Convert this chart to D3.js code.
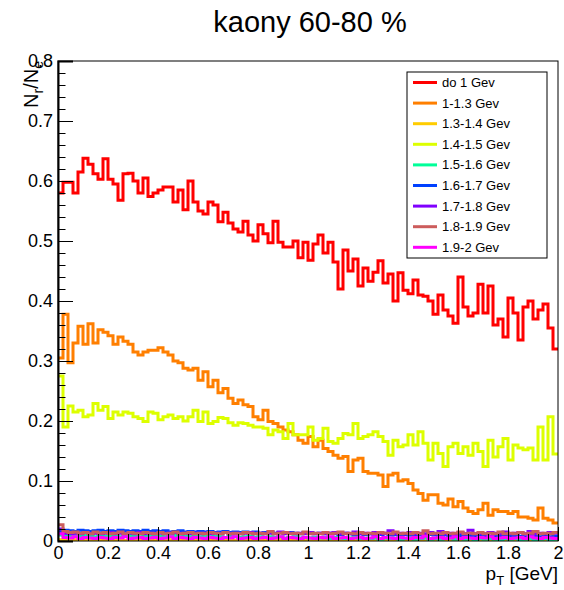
<!DOCTYPE html>
<html>
<head>
<meta charset="utf-8">
<script src="https://cdn.jsdelivr.net/npm/d3@7"></script>
<style>
  body { margin: 0; background: #fff; }
  svg { display: block; font-family: "Liberation Sans", Arial, sans-serif; }
</style>
</head>
<body>
<svg width="564" height="590"></svg>
<script>
// histogram bins: 100 bins from 0 to 2 GeV
var xMin = 0, xMax = 2, nBins = 100;
var xTicks = [0, 0.2, 0.4, 0.6, 0.8, 1, 1.2, 1.4, 1.6, 1.8, 2];
var yTicks = [0, 0.1, 0.2, 0.3, 0.4, 0.5, 0.6, 0.7, 0.8];

var labels = ["do 1 Gev", "1-1.3 Gev", "1.3-1.4 Gev", "1.4-1.5 Gev", "1.5-1.6 Gev",
              "1.6-1.7 Gev", "1.7-1.8 Gev", "1.8-1.9 Gev", "1.9-2 Gev"];
var colors = ["#ff0000", "#ff7f00", "#ffcc00", "#ddff00", "#00ff99",
              "#0040ff", "#8000ff", "#cc5c5c", "#ff00ff"];

var do1 = [
  .580,.598,.598,.580,.615,.638,.628,.612,.603,.637,
  .603,.595,.568,.612,.613,.600,.580,.605,.574,.580,
  .585,.590,.590,.565,.585,.552,.600,.565,.550,.545,
  .565,.560,.532,.548,.530,.520,.515,.533,.510,.500,
  .527,.512,.497,.533,.498,.490,.490,.500,.472,.498,
  .468,.495,.510,.480,.498,.465,.420,.485,.450,.470,
  .425,.455,.433,.448,.467,.430,.445,.400,.447,.418,
  .412,.435,.410,.408,.400,.378,.410,.385,.375,.363,
  .440,.390,.375,.380,.428,.380,.425,.360,.370,.340,
  .405,.380,.335,.390,.400,.370,.385,.395,.355,.320];

var s1_13 = [
  .305,.378,.297,.330,.358,.328,.362,.330,.352,.348,
  .342,.328,.340,.333,.328,.315,.310,.315,.318,.318,
  .322,.315,.310,.300,.297,.288,.285,.288,.268,.282,
  .257,.268,.247,.254,.238,.229,.235,.227,.224,.207,
  .202,.218,.199,.196,.190,.185,.182,.177,.168,.163,
  .174,.157,.168,.154,.149,.143,.138,.141,.116,.135,
  .138,.116,.113,.113,.110,.091,.110,.113,.100,.102,
  .096,.085,.079,.068,.077,.077,.063,.060,.070,.057,
  .066,.055,.049,.046,.052,.063,.043,.052,.049,.049,
  .046,.049,.040,.040,.038,.035,.055,.038,.035,.030];

var s13_14 = [
  .002,.001,.001,.002,.001,.001,.001,.002,.001,.001,
  .001,.002,.001,.001,.001,.002,.001,.001,.002,.001,
  .001,.001,.002,.001,.001,.001,.002,.001,.001,.002,
  .001,.001,.001,.002,.001,.001,.002,.001,.001,.001,
  .002,.001,.001,.001,.002,.001,.001,.002,.001,.001,
  .001,.002,.001,.001,.001,.002,.001,.001,.002,.001,
  .001,.001,.002,.001,.001,.001,.002,.001,.001,.002,
  .001,.001,.001,.002,.001,.001,.002,.001,.001,.001,
  .002,.001,.001,.001,.002,.001,.001,.002,.001,.001,
  .001,.002,.001,.001,.001,.002,.001,.001,.002,.001];

var s14_15 = [
  .275,.190,.225,.215,.218,.207,.210,.229,.218,.224,
  .204,.215,.210,.215,.213,.207,.204,.199,.215,.213,
  .202,.207,.210,.204,.207,.200,.207,.218,.199,.215,
  .196,.199,.206,.204,.197,.193,.197,.196,.193,.190,
  .190,.188,.177,.185,.182,.171,.196,.177,.177,.177,
  .190,.168,.171,.188,.166,.163,.171,.179,.177,.196,
  .171,.174,.177,.182,.174,.166,.143,.168,.157,.160,
  .177,.160,.182,.163,.135,.163,.146,.124,.157,.163,
  .146,.157,.143,.163,.149,.124,.168,.140,.157,.171,
  .135,.160,.155,.152,.155,.135,.190,.135,.207,.145];

var s15_16 = [
  .010,.009,.008,.009,.008,.009,.008,.007,.009,.008,
  .009,.008,.007,.008,.009,.008,.007,.008,.009,.008,
  .008,.007,.008,.009,.007,.008,.007,.008,.007,.008,
  .007,.008,.007,.006,.008,.007,.006,.007,.008,.006,
  .007,.006,.007,.006,.007,.005,.006,.007,.005,.006,
  .005,.006,.005,.006,.004,.006,.005,.004,.005,.006,
  .004,.005,.004,.005,.003,.005,.004,.005,.003,.004,
  .005,.003,.004,.005,.003,.004,.003,.004,.005,.003,
  .004,.003,.004,.002,.004,.003,.004,.003,.002,.004,
  .003,.004,.002,.003,.004,.002,.003,.004,.002,.003];

var s16_17 = [
  .016,.018,.017,.016,.018,.017,.016,.017,.018,.016,
  .017,.016,.018,.017,.016,.017,.016,.018,.016,.017,
  .016,.017,.015,.016,.017,.015,.016,.015,.016,.015,
  .016,.014,.015,.016,.014,.015,.014,.015,.014,.015,
  .013,.014,.015,.013,.014,.013,.014,.013,.012,.014,
  .013,.012,.013,.012,.013,.012,.011,.013,.012,.011,
  .012,.011,.012,.010,.011,.012,.010,.011,.010,.011,
  .010,.011,.010,.009,.011,.010,.009,.010,.009,.010,
  .009,.010,.009,.008,.010,.009,.008,.009,.008,.009,
  .008,.009,.008,.007,.009,.008,.007,.008,.007,.008];

var s17_18 = [
  .020,.013,.012,.013,.012,.014,.012,.013,.012,.013,
  .014,.012,.013,.012,.013,.012,.014,.012,.013,.012,
  .013,.012,.013,.014,.012,.013,.012,.013,.012,.013,
  .012,.013,.012,.014,.012,.013,.012,.013,.014,.012,
  .013,.012,.013,.012,.015,.012,.013,.012,.013,.012,
  .014,.012,.013,.012,.013,.014,.012,.013,.012,.015,
  .012,.013,.012,.014,.012,.013,.017,.012,.013,.012,
  .014,.012,.013,.012,.014,.012,.016,.012,.013,.012,
  .014,.012,.018,.012,.013,.012,.014,.013,.012,.015,
  .012,.013,.014,.012,.016,.012,.013,.012,.014,.013];

var s18_19 = [
  .027,.016,.014,.015,.013,.014,.012,.015,.013,.014,
  .012,.013,.015,.012,.014,.013,.012,.014,.013,.012,
  .014,.012,.013,.015,.012,.013,.014,.012,.013,.012,
  .014,.013,.012,.014,.012,.013,.012,.014,.013,.012,
  .013,.012,.016,.012,.013,.014,.012,.013,.012,.015,
  .012,.013,.012,.014,.012,.013,.015,.012,.013,.012,
  .014,.012,.013,.012,.014,.013,.012,.015,.012,.013,
  .012,.014,.012,.017,.012,.013,.012,.014,.012,.013,
  .015,.012,.013,.012,.014,.012,.013,.012,.015,.012,
  .013,.012,.014,.012,.013,.016,.012,.013,.012,.014];

var s19_2 = [
  .012,.006,.005,.007,.004,.006,.005,.004,.006,.005,
  .004,.006,.005,.007,.004,.005,.006,.004,.005,.006,
  .004,.005,.007,.004,.006,.005,.004,.006,.005,.004,
  .006,.005,.004,.006,.005,.007,.004,.005,.006,.004,
  .005,.006,.004,.005,.007,.004,.006,.005,.004,.006,
  .005,.004,.006,.005,.007,.004,.005,.006,.004,.005,
  .006,.004,.005,.007,.004,.006,.005,.004,.006,.005,
  .004,.006,.005,.008,.004,.005,.006,.004,.005,.007,
  .004,.006,.005,.004,.006,.005,.007,.004,.005,.006,
  .004,.005,.006,.004,.007,.005,.004,.006,.005,.004];

var series = [do1, s1_13, s13_14, s14_15, s15_16, s16_17, s17_18, s18_19, s19_2];

var svg = d3.select("svg");
var margin = { top: 61, right: 6, bottom: 49, left: 58 };
var width = 564 - margin.left - margin.right;
var height = 590 - margin.top - margin.bottom;

var x = d3.scaleLinear().domain([xMin, xMax]).range([0, width]);
var y = d3.scaleLinear().domain([0, 0.8]).range([height, 0]);

var g = svg.append("g")
    .attr("transform", "translate(" + margin.left + "," + margin.top + ")");

g.append("clipPath").attr("id", "clip")
  .append("rect").attr("width", width).attr("height", height);

// titre
svg.append("text")
    .attr("x", 310).attr("y", 32)
    .attr("text-anchor", "middle")
    .attr("font-size", 29)
    .text("kaony 60-80 %");

// histogrammes en escalier
var binW = (xMax - xMin) / nBins;
var line = d3.line()
    .x(function(d) { return x(d[0]); })
    .y(function(d) { return y(d[1]); })
    .curve(d3.curveStepAfter);

var plot = g.append("g").attr("clip-path", "url(#clip)");
series.forEach(function(vals, k) {
    var pts = vals.map(function(v, i) { return [xMin + i * binW, v]; });
    pts.push([xMax, vals[vals.length - 1]]);
    plot.append("path")
        .datum(pts)
        .attr("fill", "none")
        .attr("stroke", colors[k])
        .attr("stroke-width", 3)
        .attr("d", line);
});

// cadre
g.append("rect")
    .attr("width", width).attr("height", height)
    .attr("fill", "none").attr("stroke", "#000").attr("stroke-width", 1);

// axes
var xMinor = d3.range(0, 2.0001, 0.04);
var yMinor = d3.range(0, 0.8001, 0.02);

g.append("g")
    .attr("transform", "translate(0," + height + ")")
    .call(d3.axisBottom(x).tickValues(xMinor).tickSize(-7).tickFormat(""))
    .call(function(a) { a.select(".domain").remove(); });

g.append("g")
    .attr("class", "xaxis")
    .attr("transform", "translate(0," + height + ")")
    .call(d3.axisBottom(x).tickValues(xTicks).tickSize(-14).tickPadding(5)
        .tickFormat(d3.format("~g")))
    .call(function(a) { a.select(".domain").remove(); });

g.append("g")
    .call(d3.axisLeft(y).tickValues(yMinor).tickSize(-7.5).tickFormat(""))
    .call(function(a) { a.select(".domain").remove(); });

g.append("g")
    .attr("class", "yaxis")
    .call(d3.axisLeft(y).tickValues(yTicks).tickSize(-15).tickPadding(5)
        .tickFormat(d3.format("~g")))
    .call(function(a) { a.select(".domain").attr("stroke-width", 2); });

svg.selectAll(".xaxis text, .yaxis text")
    .attr("font-size", 18)
    .attr("font-family", "Liberation Sans, Arial, sans-serif")
    .attr("fill", "#000");

// titre axe x
var xt = svg.append("text")
    .attr("x", 558).attr("y", 580)
    .attr("text-anchor", "end")
    .attr("font-size", 19);
xt.append("tspan").text("p");
xt.append("tspan").attr("font-size", 13).attr("dy", 5).text("T");
xt.append("tspan").attr("dy", -5).text(" [GeV]");

// titre axe y
var yt = svg.append("text")
    .attr("transform", "translate(38,61) rotate(-90)")
    .attr("text-anchor", "end")
    .attr("font-size", 20);
yt.append("tspan").text("N");
yt.append("tspan").attr("font-size", 14).attr("dy", 5).text("r");
yt.append("tspan").attr("dy", -5).text("/N");
yt.append("tspan").attr("font-size", 14).attr("dy", 5).text("e");

// legende
var lx = 407, ly = 72, lw = 140, lh = 186, rowH = 20.6;
svg.append("rect")
    .attr("x", lx).attr("y", ly).attr("width", lw).attr("height", lh)
    .attr("fill", "#fff").attr("stroke", "#000").attr("stroke-width", 1);

labels.forEach(function(lab, k) {
    var cy = ly + 10.5 + k * rowH;
    svg.append("line")
        .attr("x1", lx + 6).attr("x2", lx + 30)
        .attr("y1", cy).attr("y2", cy)
        .attr("stroke", colors[k]).attr("stroke-width", 3);
    svg.append("text")
        .attr("x", lx + 35).attr("y", cy + 4.5)
        .attr("font-size", 13)
        .text(lab);
});
</script>
</body>
</html>
